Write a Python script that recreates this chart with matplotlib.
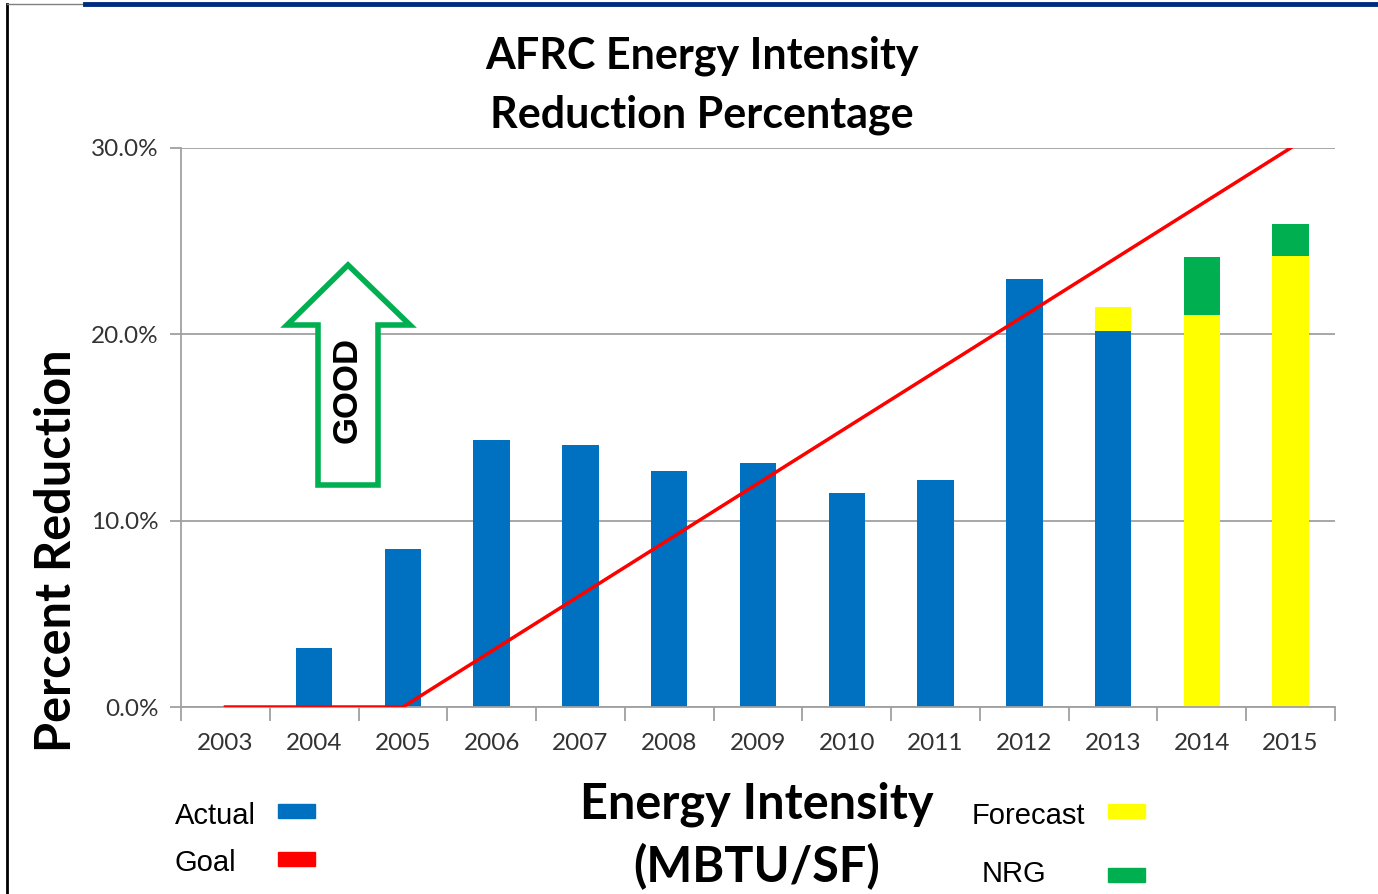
import matplotlib
matplotlib.use("Agg")
import matplotlib.pyplot as plt
import matplotlib.patches as mpatches
from matplotlib.ticker import FuncFormatter

years = [str(y) for y in range(2003, 2016)]
actual = [0, 3.17, 8.48, 14.33, 14.06, 12.67, 13.10, 11.49, 12.18, 22.97, 20.18, 0, 0]
forecast = [0, 0, 0, 0, 0, 0, 0, 0, 0, 0, 1.29, 21.04, 24.21]
nrg = [0, 0, 0, 0, 0, 0, 0, 0, 0, 0, 0, 3.11, 1.72]
goal = [0, 0, 0, 3, 6, 9, 12, 15, 18, 21, 24, 27, 30]

BLUE = "#0070c0"
YELLOW = "#ffff00"
GREEN = "#00b050"
RED = "#ff0000"
TFONT = "Lato"

fig = plt.figure(figsize=(13.78, 8.94), dpi=100)
ax = fig.add_axes([181 / 1378, 1 - 707 / 894, (1335 - 181) / 1378, (707 - 148) / 894])

x = list(range(len(years)))
w = 0.41
ax.bar(x, actual, w, color=BLUE, zorder=2)
bottom2 = actual
ax.bar(x, forecast, w, bottom=bottom2, color=YELLOW, zorder=2)
bottom3 = [a + f for a, f in zip(actual, forecast)]
ax.bar(x, nrg, w, bottom=bottom3, color=GREEN, zorder=2)
ax.plot(x, goal, color=RED, lw=2.5, zorder=3)

ax.set_xlim(-0.5, len(years) - 0.5)
ax.set_ylim(0, 30)
ax.set_yticks([0, 10, 20, 30])
ax.yaxis.set_major_formatter(FuncFormatter(lambda v, p: f"{v:.1f}%"))
ax.set_xticks(x)
ax.set_xticklabels(years)
ax.set_xticks([i - 0.5 for i in range(len(years) + 1)], minor=True)
ax.tick_params(axis="x", which="major", length=0, pad=19, labelsize=17.5, colors="#333333")
ax.tick_params(axis="x", which="minor", length=10, color="#a0a0a0", width=1.3)
ax.tick_params(axis="y", length=8, color="#a0a0a0", width=1.3, labelsize=17.5, pad=8, colors="#333333")
for lab in ax.get_xticklabels() + ax.get_yticklabels():
    lab.set_fontfamily(TFONT)
ax.grid(axis="y", color="#a0a0a0", lw=1.3, zorder=0)
for s in ["top", "right"]:
    ax.spines[s].set_visible(False)
for s in ["left", "bottom"]:
    ax.spines[s].set_color("#a0a0a0")
    ax.spines[s].set_linewidth(1.3)

# GOOD arrow (axes fraction coordinates)
def af(px, py):
    return ((px - 181) / 1154, (707 - py) / 559)

arrow_pts = [af(348, 265), af(410, 325), af(378, 325), af(378, 485),
             af(318, 485), af(318, 325), af(287, 325)]
ax.add_patch(mpatches.Polygon(arrow_pts, closed=True, transform=ax.transAxes,
                              facecolor="white", edgecolor=GREEN, lw=4, zorder=4))
gx, gy = af(347, 390)
ax.text(gx, gy, "GOOD", transform=ax.transAxes, rotation=90, ha="center", va="center",
        fontsize=25, fontweight="bold", family="Liberation Sans", zorder=5)

# titles
fig.text(702 / 1378, 1 - 85 / 894, "AFRC Energy Intensity\nReduction Percentage",
         ha="center", va="center", fontsize=31, fontweight="bold", family=TFONT,
         linespacing=1.55)
fig.text(757 / 1378, 1 - 836 / 894, "Energy Intensity\n(MBTU/SF)",
         ha="center", va="center", fontsize=35, fontweight="bold", family=TFONT,
         linespacing=1.42)
fig.text(57 / 1378, 1 - 551 / 894, "Percent Reduction", rotation=90,
         ha="center", va="center", fontsize=35, fontweight="bold", family=TFONT)

# legend
leg = [("Actual", 175, 816, BLUE, 278, 811), ("Goal", 175, 863, RED, 278, 859),
       ("Forecast", 972, 816, YELLOW, 1108, 811), ("NRG", 982, 874, GREEN, 1108, 875)]
for name, tx, ty, col, px, py in leg:
    fig.text(tx / 1378, 1 - ty / 894, name, ha="left", va="center",
             fontsize=21, family="Liberation Sans")
    fig.patches.append(mpatches.Rectangle((px / 1378, 1 - (py + 7) / 894), 37 / 1378, 14 / 894,
                                          transform=fig.transFigure, color=col))

# frame lines
fig.add_artist(plt.Line2D([7 / 1378, 7 / 1378], [0, 1 - 4 / 894], color="black", lw=2,
                          transform=fig.transFigure))
fig.add_artist(plt.Line2D([7 / 1378, 85 / 1378], [1 - 4 / 894, 1 - 4 / 894], color="#808080",
                          lw=1, transform=fig.transFigure))
fig.add_artist(plt.Line2D([85 / 1378, 1], [1 - 4 / 894, 1 - 4 / 894], color="#002b80",
                          lw=3.5, transform=fig.transFigure))

fig.savefig("out.png", dpi=100)
